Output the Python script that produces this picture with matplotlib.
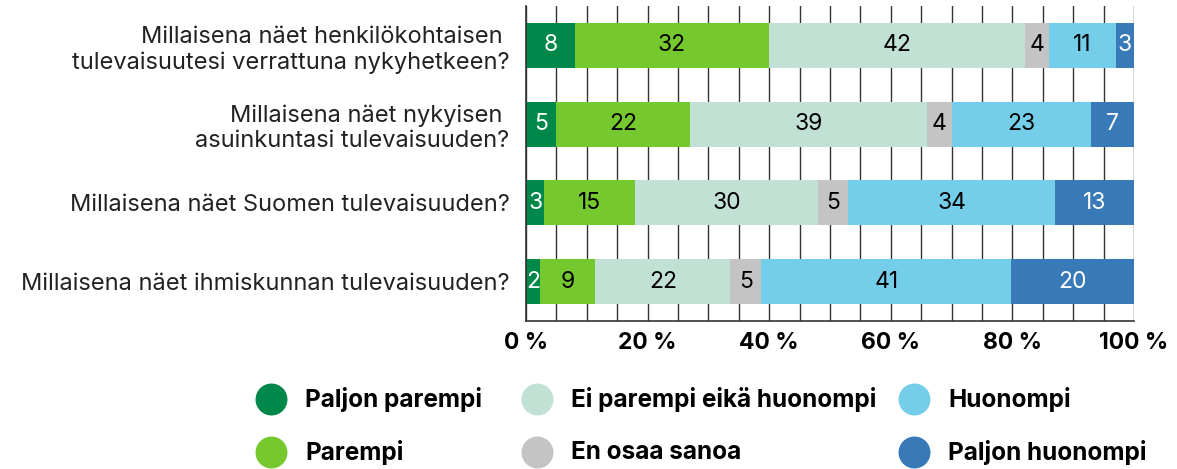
import numpy as np
import matplotlib.pyplot as plt
from matplotlib.lines import Line2D

plt.rcParams['font.family'] = ['Inter', 'DejaVu Sans']

questions = [
    "Millaisena näet henkilökohtaisen \ntulevaisuutesi verrattuna nykyhetkeen?",
    "Millaisena näet nykyisen \nasuinkuntasi tulevaisuuden?",
    "Millaisena näet Suomen tulevaisuuden?",
    "Millaisena näet ihmiskunnan tulevaisuuden?",
]
categories = ["Paljon parempi", "Parempi", "Ei parempi eikä huonompi",
              "En osaa sanoa", "Huonompi", "Paljon huonompi"]
colors = ["#00884A", "#76C82F", "#C1E1D5", "#C4C4C4", "#74CEEA", "#3879B8"]
text_colors = ["white", "black", "black", "black", "black", "white"]

# shares per question (%), in category order
paljon_parempi = [8, 5, 3, 2.3]
parempi = [32, 22, 15, 9.1]
ei_kumpikaan = [42, 39, 30, 22.2]
en_osaa = [4, 4, 5, 5.1]
huonompi = [11, 23, 34, 41.1]
paljon_huonompi = [3, 7, 13, 20.2]
series = [paljon_parempi, parempi, ei_kumpikaan, en_osaa, huonompi, paljon_huonompi]

W, H = 1177, 469
fig = plt.figure(figsize=(W / 100, H / 100), dpi=100)
ax = fig.add_axes([526 / W, 1 - 321 / H, (1134 - 526) / W, (321 - 6) / H])

y = np.arange(len(questions))
left = np.zeros(len(questions))
for vals, col, tcol in zip(series, colors, text_colors):
    vals = np.array(vals, dtype=float)
    bars = ax.barh(y, vals, left=left, height=0.57, color=col, zorder=2)
    ax.bar_label(bars, labels=[f"{v:.0f}" for v in vals], label_type='center',
                 color=tcol, fontsize=16.5)
    left += vals

ax.set_xlim(0, 100)
ax.set_ylim(3.5, -0.5)
ax.set_xticks(np.arange(0, 101, 20))
ax.set_xticklabels([f"{t} %" for t in range(0, 101, 20)], fontsize=16.5, fontweight='bold')
ax.set_xticks(np.arange(0, 101, 5), minor=True)
ax.grid(axis='x', which='both', color='#333333', lw=1, zorder=0)
ax.set_axisbelow(True)
ax.set_yticks(y)
ax.set_yticklabels(questions, fontsize=17, color='#222222')
ax.tick_params(axis='both', which='both', length=0)
ax.tick_params(axis='x', pad=8)
ax.tick_params(axis='y', pad=12)
for s in ['top', 'right']:
    ax.spines[s].set_visible(False)
for s in ['left', 'bottom']:
    ax.spines[s].set_color('#333333')
    ax.spines[s].set_linewidth(1.2)

# legend laid out as a 2x3 grid
col_x = [271, 537, 914]
row_y = [399, 452]
order = [(0, 0), (1, 0), (0, 1), (1, 1), (0, 2), (1, 2)]
for (r, c), name, col in zip(order, categories, colors):
    fig.add_artist(Line2D([col_x[c] / W], [1 - row_y[r] / H], marker='o',
                          markersize=22, color=col, linestyle='none',
                          transform=fig.transFigure))
    fig.text((col_x[c] + 34) / W, 1 - row_y[r] / H, name, fontsize=17.5,
             fontweight='bold', va='center', ha='left')

fig.savefig("out.png", dpi=100)
